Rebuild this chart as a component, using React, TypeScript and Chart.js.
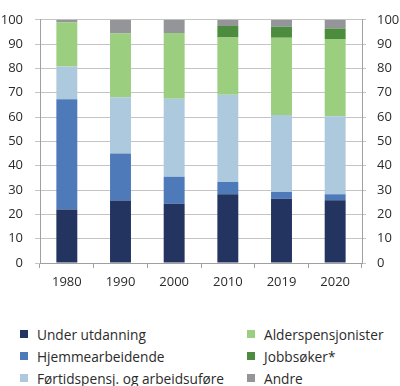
import React, { useEffect, useRef } from "react";
import { Chart, registerables } from "chart.js";

Chart.register(...registerables);

const years = ["1980", "1990", "2000", "2010", "2019", "2020"];
const underUtdanning = [22.0, 25.7, 24.4, 28.3, 26.4, 25.8];
const hjemmearbeidende = [45.3, 19.3, 11.1, 5.0, 2.8, 2.5];
const fortidspensj = [13.5, 23.2, 32.0, 35.9, 31.7, 32.0];
const alderspensjonister = [18.2, 26.2, 27.1, 23.5, 31.7, 31.8];
const jobbsoker = [0, 0, 0, 4.8, 4.5, 4.3];
const andre = [1.0, 5.6, 5.4, 2.5, 2.9, 3.6];

const seriesNames = [
  "Under utdanning",
  "Hjemmearbeidende",
  "Førtidspensj. og arbeidsuføre",
  "Alderspensjonister",
  "Jobbsøker*",
  "Andre",
];
const seriesData = [underUtdanning, hjemmearbeidende, fortidspensj, alderspensjonister, jobbsoker, andre];
const seriesColors = ["#22345f", "#4f7aba", "#adc9de", "#9bce7f", "#4c8c3f", "#939598"];

const FONT = "'Open Sans', 'Noto Sans', sans-serif";
const TEXT = "#2b2b2b";
const GRID = "#c4c4c4";
const AXIS = "#a0a0a0";

export default function App() {
  const ref = useRef<HTMLCanvasElement | null>(null);

  useEffect(() => {
    if (!ref.current) return;
    const chart = new Chart(ref.current, {
      type: "bar",
      data: {
        labels: years,
        datasets: seriesNames.map((name, i) => ({
          label: name,
          data: seriesData[i],
          backgroundColor: seriesColors[i],
          borderWidth: 0,
          categoryPercentage: 1,
          barPercentage: 0.39,
          yAxisID: "y",
        })),
      },
      options: {
        animation: false,
        responsive: true,
        maintainAspectRatio: false,
        layout: { padding: { top: 8, left: 0, right: 0, bottom: 0 } },
        plugins: { legend: { display: false }, tooltip: { enabled: false } },
        scales: {
          x: {
            stacked: true,
            grid: { offset: true, drawOnChartArea: false, tickLength: 5, color: AXIS },
            border: { color: AXIS },
            ticks: { color: TEXT, font: { family: FONT, size: 13 }, padding: 6 },
            afterFit: (s: any) => {
              s.height = 37;
            },
          },
          y: {
            stacked: true,
            position: "left",
            min: 0,
            max: 100,
            ticks: { stepSize: 10, color: TEXT, font: { family: FONT, size: 13 }, padding: 12 },
            grid: { color: GRID, tickLength: 5 },
            border: { color: AXIS },
            afterFit: (s: any) => {
              s.width = 40;
            },
          },
          y2: {
            position: "right",
            min: 0,
            max: 100,
            ticks: { stepSize: 10, color: TEXT, font: { family: FONT, size: 13 }, padding: 11 },
            grid: { drawOnChartArea: false, color: GRID, tickLength: 4 },
            border: { color: AXIS },
            afterFit: (s: any) => {
              s.width = 38;
            },
          },
        },
      },
    });
    return () => chart.destroy();
  }, []);

  const order = [
    [0, 3],
    [1, 4],
    [2, 5],
  ];

  return (
    <div style={{ position: "absolute", left: 0, top: 0, width: 400, height: 386, background: "#fff" }}>
      <div style={{ position: "absolute", left: 0, top: 0, width: 400, height: 300 }}>
        <canvas ref={ref} />
      </div>
      {order.map((row, r) =>
        row.map((idx, c) => (
          <div
            key={idx}
            style={{
              position: "absolute",
              left: c === 0 ? 20 : 247,
              top: 334 + r * 22 - 10,
              height: 20,
              display: "flex",
              alignItems: "center",
              fontFamily: FONT,
              fontSize: 13.7,
              color: TEXT,
              whiteSpace: "nowrap",
            }}
          >
            <span
              style={{
                display: "inline-block",
                width: 8,
                height: 8,
                background: seriesColors[idx],
                marginRight: 9,
              }}
            />
            <span>{seriesNames[idx]}</span>
          </div>
        ))
      )}
    </div>
  );
}
